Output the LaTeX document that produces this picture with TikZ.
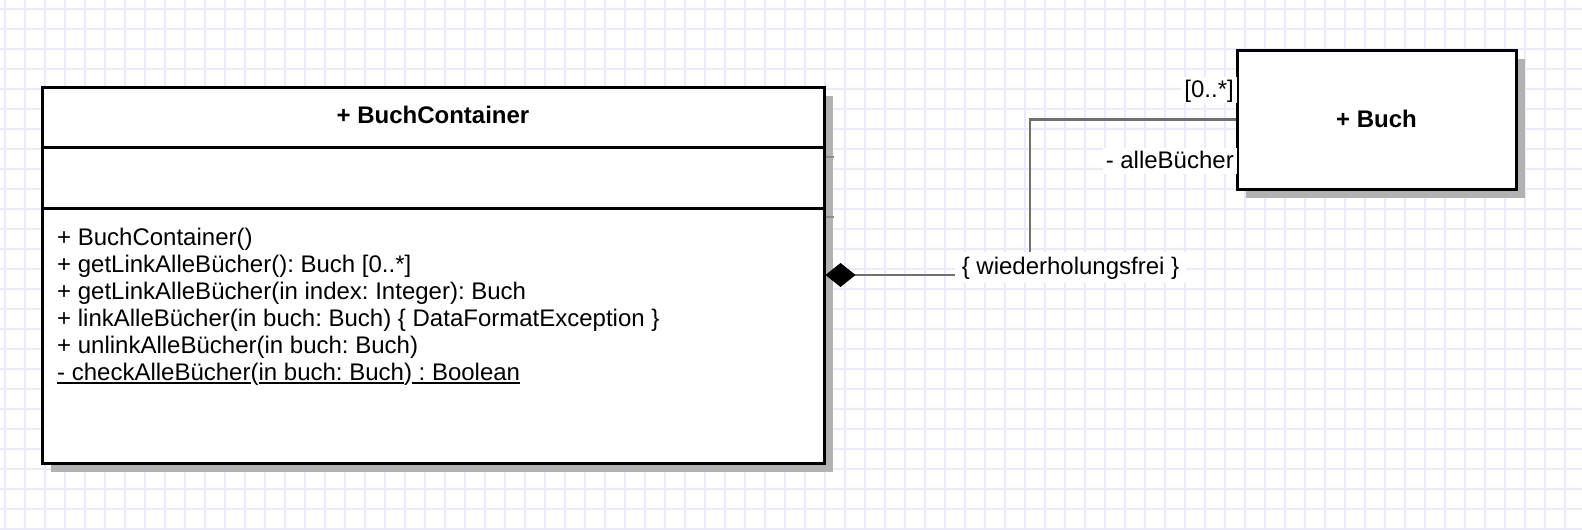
\documentclass[tikz,border=0pt]{standalone}
\usepackage{fontspec}
\setmainfont{Liberation Sans}
\usetikzlibrary{arrows.meta,shadows}
\frenchspacing

\definecolor{gridc}{RGB}{234,234,250}
\definecolor{shadowc}{RGB}{178,178,178}
\definecolor{linkc}{RGB}{112,112,112}

\newcommand\umlfont{\fontsize{24}{28}\selectfont}
% underline one run of text (parentheses are left out, as the tool renders them)
\newcommand\ulseg[1]{\setbox0=\hbox{#1}\rlap{\rule[-3.5pt]{\wd0}{1.6pt}}\box0}

\begin{document}
\begin{tikzpicture}[x=1pt,y=-1pt,
  gridline/.style={draw=gridc, line width=1.4pt},
  classbox/.style={draw=black, fill=white, line width=3pt, inner sep=0pt,
    general shadow={fill=shadowc, shadow xshift=9pt, shadow yshift=-9pt}},
  divider/.style={draw=black, line width=3pt},
  divshadow/.style={draw=black!45, line width=1.5pt},
  classname/.style={font=\umlfont\bfseries, inner sep=0pt},
  op/.style={font=\umlfont, inner sep=0pt, anchor=base west},
  link/.style={draw=linkc, line width=2.6pt,
    {Diamond[length=30pt,width=24pt,line width=1pt,color=black]}-},
  lbl/.style={font=\umlfont, fill=white, text height=18pt, text depth=4pt,
    inner ysep=2pt, inner xsep=3pt},
]
% canvas and background grid
\fill[white] (0,0) rectangle (1582,530);
\useasboundingbox (0,0) rectangle (1582,530);
\foreach \gx in {5,25,...,1585} \draw[gridline] (\gx,0) -- (\gx,530);
\foreach \gy in {9,29,...,529} \draw[gridline] (0,\gy) -- (1582,\gy);

% class BuchContainer
\node[classbox, minimum width=782pt, minimum height=376pt] (bc) at (433,275) {};
\coordinate (d1) at (0,147);
\coordinate (d2) at (0,208);
\coordinate (s1) at (0,157);
\coordinate (s2) at (0,217);
\draw[divshadow] (bc.east |- s1) -- ++(8,0);
\draw[divshadow] (bc.east |- s2) -- ++(8,0);
\draw[divider] (bc.west |- d1) -- (bc.east |- d1);
\draw[divider] (bc.west |- d2) -- (bc.east |- d2);
\node[classname] (bcname) at (433,115) {+ BuchContainer};

\node[op] (op1) at (57,245) {+ BuchContainer()};
\node[op] (op2) at (57,272) {+ getLinkAlleBücher(): Buch [0..*]};
\node[op] (op3) at (57,299) {+ getLinkAlleBücher(in index: Integer): Buch};
\node[op] (op4) at (57,326) {+ linkAlleBücher(in buch: Buch) \{ DataFormatException \}};
\node[op] (op5) at (57,353) {+ unlinkAlleBücher(in buch: Buch)};
\node[op] (op6) at (57,380) {\ulseg{- checkAlleBücher}(\ulseg{in buch: Buch})\ulseg{ : Boolean}};

% class Buch
\node[classbox, minimum width=279pt, minimum height=139pt] (buch) at (1376.5,119.5) {};
\node[classname] (buchname) at (1376.5,119) {+ Buch};

% composition
\coordinate (bend) at (1030,275);
\draw[link] (bc.east) -- (bend) |- (buch.west);
\node[lbl, anchor=base, inner xsep=7pt, text height=19pt, text depth=6pt, inner ysep=3pt]
  (constr) at (1070.5,274) {\{ wiederholungsfrei \}};
\node[lbl, anchor=base east] (mult) at (1237,97) {[0..*]};
\node[lbl, anchor=base east] (role) at (1237,168) {- alleBücher};
\end{tikzpicture}
\end{document}
